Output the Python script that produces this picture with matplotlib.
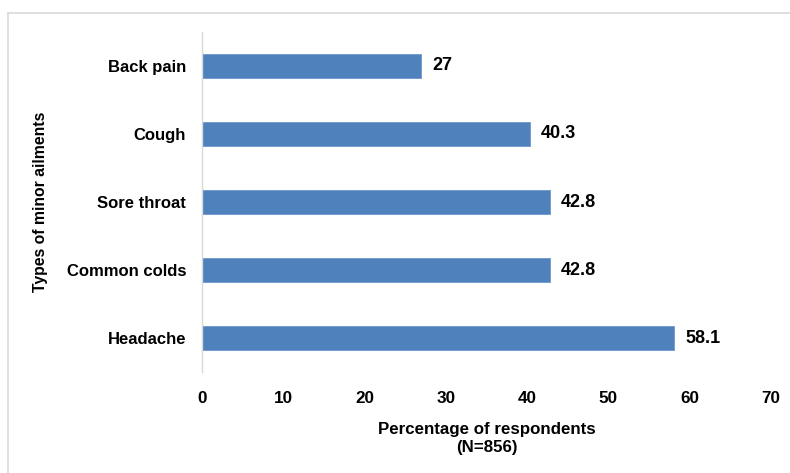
import matplotlib
matplotlib.use("Agg")
from matplotlib import pyplot as plt
from matplotlib.lines import Line2D

ailments = ["Back pain", "Cough", "Sore throat", "Common colds", "Headache"]
percent = [27, 40.3, 42.8, 42.8, 58.1]
value_labels = ["27", "40.3", "42.8", "42.8", "58.1"]
xticks = [0, 10, 20, 30, 40, 50, 60, 70]

plt.rcParams["font.family"] = ["Liberation Sans", "DejaVu Sans"]
plt.rcParams["font.weight"] = "bold"

fig = plt.figure(figsize=(7.9, 4.73), dpi=100)
ax = fig.add_axes([202 / 790, 1 - 372 / 473, (771 - 202) / 790, 340 / 473])

ypos = list(range(len(ailments)))
bars = ax.barh(ypos, percent, height=0.35, color="#4F81BD",
               edgecolor="#6E97CB", linewidth=0.6)
for bar, lab in zip(bars, value_labels):
    ax.annotate(lab, (bar.get_width(), bar.get_y() + bar.get_height() / 2),
                xytext=(8, 0), textcoords="offset points",
                va="center", ha="left", fontsize=13, fontweight="bold")

ax.set_ylim(len(ailments) - 0.5, -0.5)
ax.set_yticks(ypos)
ax.set_yticklabels(ailments, fontsize=12, fontweight="bold")
ax.set_xlim(0, 70)
ax.set_xticks(xticks)
ax.set_xticklabels([str(t) for t in xticks], fontsize=12.3, fontweight="bold")
ax.tick_params(length=0)
ax.tick_params(axis="y", pad=11.5)
ax.tick_params(axis="x", pad=14)

for s in ["top", "right", "bottom"]:
    ax.spines[s].set_visible(False)
ax.spines["left"].set_color("#D9D9D9")
ax.spines["left"].set_linewidth(1)

ax.set_xlabel("Percentage of respondents\n(N=856)", fontsize=12.2,
              fontweight="bold", labelpad=11, linespacing=1.3)
fig.text(41 / 790, 1 - 202 / 473, "Types of minor ailments", rotation=90,
         ha="center", va="center", fontsize=11.3, fontweight="bold")

# light frame lines at top and left
fig.add_artist(Line2D([8 / 790, 1], [1 - 13 / 473, 1 - 13 / 473],
                      color="#D9D9D9", lw=1.2, transform=fig.transFigure))
fig.add_artist(Line2D([8 / 790, 8 / 790], [0, 1 - 13 / 473],
                      color="#D9D9D9", lw=1.2, transform=fig.transFigure))

fig.savefig("out.png", dpi=100)
